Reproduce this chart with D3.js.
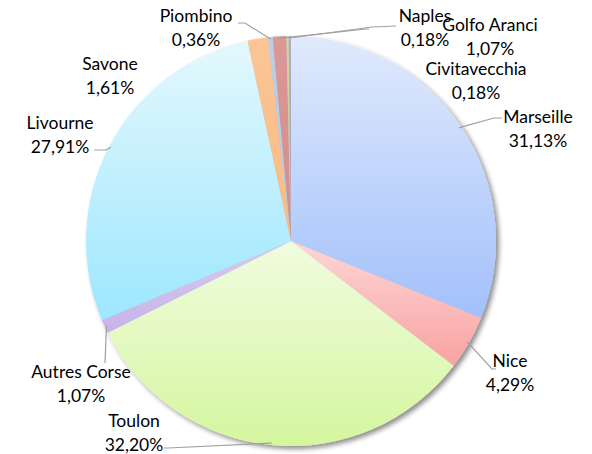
<!DOCTYPE html>
<html>
<head>
<meta charset="utf-8">
<script src="https://cdn.jsdelivr.net/npm/d3@7"></script>
<style>
  body { margin: 0; background: #fff; }
  text { font-family: Lato, "Open Sans", sans-serif; font-size: 17.5px; fill: #000; }
</style>
</head>
<body>
<svg id="canvas" width="592" height="454"></svg>
<script>
// ports, clockwise from 12 o'clock
var ports = ['Marseille', 'Nice', 'Toulon', 'Autres Corse', 'Livourne', 'Savone',
             'Piombino', 'Golfo Aranci', 'Civitavecchia', 'Naples'];
var shares = [31.13, 4.29, 32.20, 1.07, 27.91, 1.61, 0.36, 1.07, 0.18, 0.18];
var colorTop = ['#e0eafc', '#fdd6d6', '#f0fce0', '#d8caef', '#e4f8fd', '#fbc596',
                '#bad0e8', '#da9896', '#c7d9a0', '#b6a7cb'];
var colorBottom = ['#a2c0fb', '#f9a2a2', '#d5f69e', '#c7b3ea', '#9de7fe', '#f8bb85',
                   '#b3c9e2', '#d48d8b', '#bfd295', '#ae9dc4'];

// label placement (centre x, first line y) and elbow of the leader line
var labelPos = [
  {x: 538, y: 117, lx: [502, 494], ly: [118, 118]},
  {x: 510, y: 361, lx: [496, 492], ly: [369, 369]},
  {x: 134, y: 421, lx: [164, 168], ly: [448, 448]},
  {x: 81,  y: 372, lx: [105, 105], ly: [363, 363]},
  {x: 60,  y: 123, lx: [94, 106],  ly: [150, 150]},
  {x: 110, y: 64,  lx: null},
  {x: 196, y: 16,  lx: [238, 245], ly: [23, 23]},
  {x: 490, y: 25,  lx: [369, 366], ly: [29, 29]},
  {x: 476, y: 69,  lx: null},
  {x: 425, y: 16,  lx: [396, 372], ly: [26, 27]}
];

var cx = 291, cy = 241, r = 205;
var svg = d3.select('#canvas');
var defs = svg.append('defs');

var shadow = defs.append('filter').attr('id', 'shadow')
  .attr('x', '-10%').attr('y', '-10%').attr('width', '120%').attr('height', '120%');
shadow.append('feGaussianBlur').attr('in', 'SourceAlpha').attr('stdDeviation', 2.5);
shadow.append('feOffset').attr('dx', 3).attr('dy', 3).attr('result', 'off');
shadow.append('feComponentTransfer').append('feFuncA').attr('type', 'linear').attr('slope', 0.45);
var merge = shadow.append('feMerge');
merge.append('feMergeNode');
merge.append('feMergeNode').attr('in', 'SourceGraphic');

ports.forEach(function(p, i) {
  var g = defs.append('linearGradient').attr('id', 'grad' + i)
    .attr('x1', 0).attr('y1', 0).attr('x2', 0).attr('y2', 1);
  g.append('stop').attr('offset', '0%').attr('stop-color', colorTop[i]);
  g.append('stop').attr('offset', '100%').attr('stop-color', colorBottom[i]);
});

var pie = d3.pie().sort(null).value(function(d) { return d; });
var arcs = pie(shares);
var arc = d3.arc().innerRadius(0).outerRadius(r);

var chart = svg.append('g').attr('transform', 'translate(' + cx + ',' + cy + ')');
chart.append('g').attr('filter', 'url(#shadow)')
  .selectAll('path')
  .data(arcs)
  .enter()
  .append('path')
  .attr('d', arc)
  .attr('fill', function(d, i) { return 'url(#grad' + i + ')'; });

// leader lines: from the arc edge at mid angle to the label elbow
var edge = d3.arc().innerRadius(r - 2).outerRadius(r - 2);
var leaders = svg.append('g').attr('fill', 'none').attr('stroke', '#a0a0a0').attr('stroke-width', 1.2);
arcs.forEach(function(d, i) {
  var lp = labelPos[i];
  if (!lp.lx) return;
  var c = edge.centroid(d);
  var pts = [[lp.lx[0], lp.ly[0]], [lp.lx[1], lp.ly[1]], [cx + c[0], cy + c[1]]];
  leaders.append('path').attr('d', d3.line()(pts));
});

var labels = svg.append('g');
ports.forEach(function(p, i) {
  var lp = labelPos[i];
  var t = labels.append('text').attr('text-anchor', 'middle');
  t.append('tspan').attr('x', lp.x).attr('y', lp.y).attr('dy', '0.35em').text(p);
  t.append('tspan').attr('x', lp.x).attr('y', lp.y + 24).attr('dy', '0.35em')
    .text(shares[i].toFixed(2).replace('.', ',') + '%');
});
</script>
</body>
</html>
